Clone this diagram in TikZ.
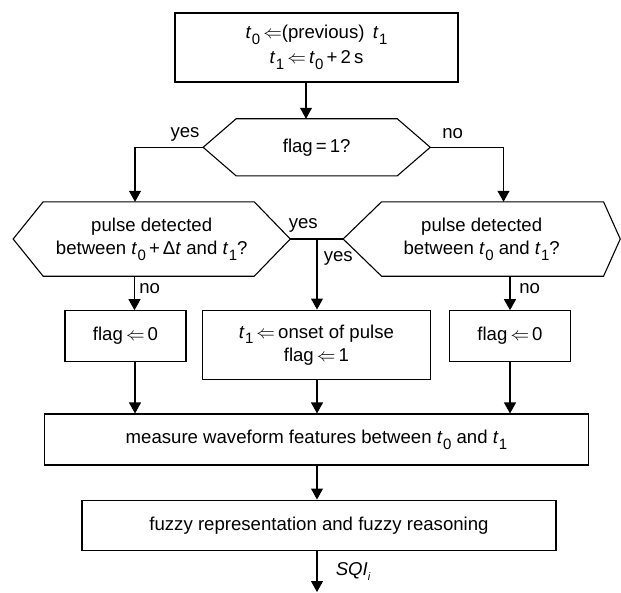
\documentclass[tikz,border=0pt]{standalone}
\usepackage{fix-cm}
\usepackage{fontspec}
\setmainfont{Liberation Sans}
\usetikzlibrary{arrows.meta,calc}
\newcommand\tsb[2]{\textit{#1}\kern0.02em\raisebox{-0.32em}{\fontsize{15}{15}\selectfont #2}}
\newcommand\lar{\ensuremath{\Leftarrow}}
\newcommand\hexdraw[3]{\draw[lw] (#1.west) -- ([xshift=#2]#1.north west) -- ([xshift=-#3]#1.north east) -- (#1.east) -- ([xshift=-#3]#1.south east) -- ([xshift=#2]#1.south west) -- cycle;}
\begin{document}
\begin{tikzpicture}[x=1pt,y=-1pt,
  lw/.style={line width=1.1pt},
  txt/.style={font=\fontsize{18.6}{23}\selectfont, align=center},
  box/.style={txt, draw, lw, inner sep=0pt},
  hexn/.style={txt, inner sep=0pt},
  lbl/.style={font=\fontsize{18.6}{23}\selectfont, inner sep=0pt},
  arr/.style={lw, -{Triangle[width=12pt,length=11pt]}},
  ln/.style={lw}]
\useasboundingbox (0,0) rectangle (621,592);

% nodes
\node[box, minimum width=283pt, minimum height=69pt] (top) at (316.5,47.5)
  {\tsb{t}{0}\,\lar(previous)\, \tsb{t}{1}\\[2pt]\tsb{t}{1}\,\lar\,\tsb{t}{0}\,+\,2\,s};
\node[hexn, minimum width=226.7pt, minimum height=56.7pt] (h1) at (316.7,147.3) {flag\,=\,1?};
\node[hexn, minimum width=276.7pt, minimum height=74pt] (hl) at (151.7,239) {pulse detected\\between \tsb{t}{0}\,+\,Δ\textit{t} and \tsb{t}{1}?};
\node[hexn, minimum width=276.7pt, minimum height=74pt] (hr) at (481.7,239) {pulse detected\\between \tsb{t}{0} and \tsb{t}{1}?};
\node[box, minimum width=121pt, minimum height=50.3pt] (bl) at (125.5,335.9) {flag\,\lar\,0};
\node[box, minimum width=227.3pt, minimum height=69.3pt] (bm) at (316.4,344.7) {\tsb{t}{1}\,\lar\,onset of pulse\\flag\,\lar\,1};
\node[box, minimum width=121.4pt, minimum height=50.3pt] (br) at (510,335.9) {flag\,\lar\,0};
\node[box, minimum width=544.4pt, minimum height=51pt] (meas) at (316.5,439.5) {measure waveform features between \tsb{t}{0} and \tsb{t}{1}};
\node[box, minimum width=474pt, minimum height=50.7pt] (fuz) at (319,525.4) {fuzzy representation and fuzzy reasoning};

\hexdraw{h1}{33pt}{33pt}
\hexdraw{hl}{30pt}{36pt}
\hexdraw{hr}{38.4pt}{16.7pt}

% column coordinates
\coordinate (c0) at (306,0);
\coordinate (cL) at (135,0);
\coordinate (cLb) at (134.5,0);
\coordinate (cM) at (317,0);
\coordinate (cRt) at (503.5,0);
\coordinate (cR) at (510,0);
\coordinate (out) at (317,592);

% connectors
\draw[arr] (c0 |- top.south) -- (c0 |- h1.north);
\draw[arr] (h1.west) -| (cL |- hl.north);
\draw[arr] (h1.east) -| (cRt |- hr.north);
\draw[ln] (hl.east) -- (hr.west);
\draw[arr] (cM |- hl.east) -- (cM |- bm.north);
\draw[arr] (cLb |- hl.south) -- (cLb |- bl.north);
\draw[arr] (cR |- hr.south) -- (cR |- br.north);
\draw[arr] (cL |- bl.south) -- (cL |- meas.north);
\draw[arr] (cM |- bm.south) -- (cM |- meas.north);
\draw[arr] (cR |- br.south) -- (cR |- meas.north);
\draw[arr] (cM |- meas.south) -- (cM |- fuz.north);
\draw[arr] (cM |- fuz.south) -- (out);

% labels
\node[lbl] (yes1) at (185,134) {yes};
\node[lbl] (no1) at (452.7,134) {no};
\node[lbl] (yes2) at (303.3,225) {yes};
\node[lbl] (yes3) at (338.3,258.3) {yes};
\node[lbl] (no2) at (149.7,288.3) {no};
\node[lbl] (no3) at (529.7,288.3) {no};
\node[lbl, anchor=west] (sqi) at (335.6,571.7) {\textit{SQI}\raisebox{-0.3em}{\fontsize{11}{11}\selectfont\textit{i}}};
\end{tikzpicture}
\end{document}
